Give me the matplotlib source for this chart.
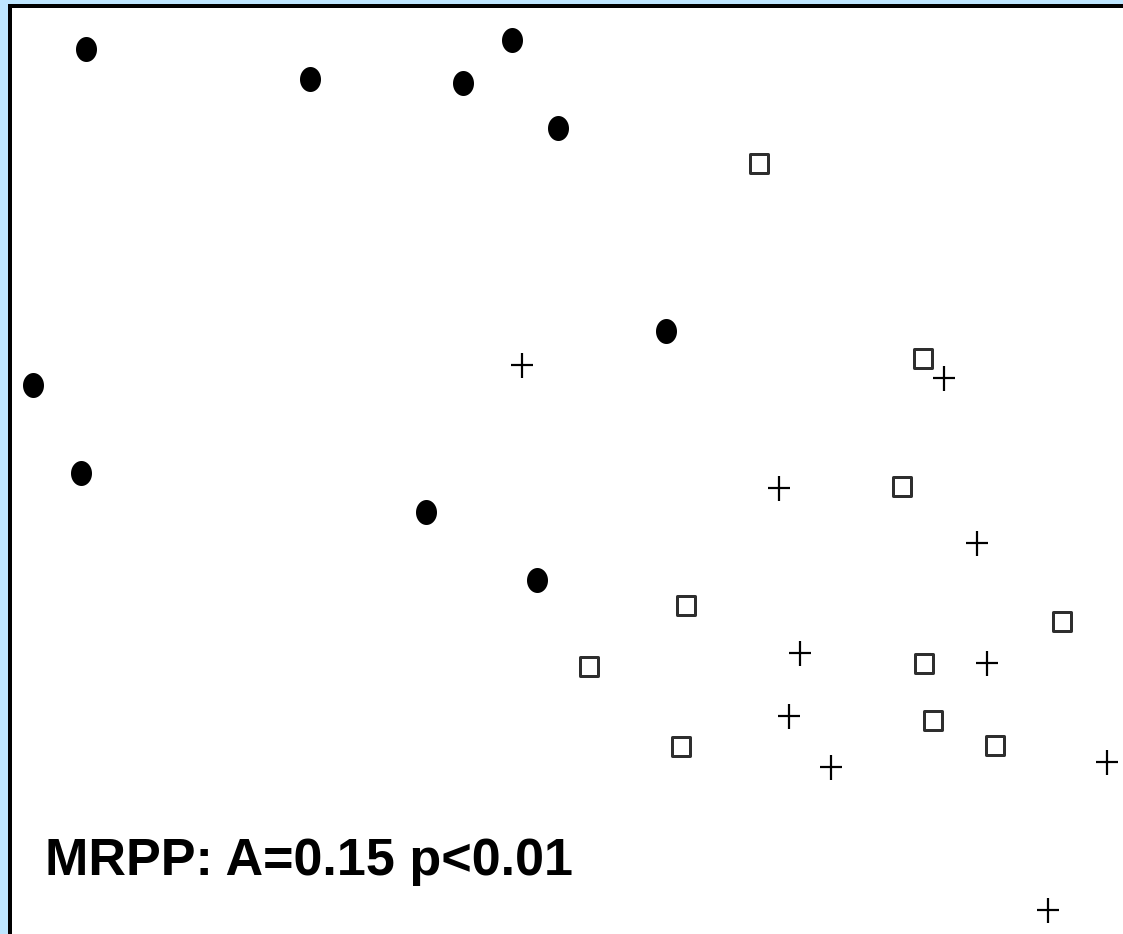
import numpy as np
import matplotlib
matplotlib.use("Agg")
import matplotlib.pyplot as plt
from matplotlib.path import Path

# Ordination scores (arbitrary NMDS-like units)
group_a_x = [0.76, 3.00, 4.53, 5.02, 5.48, 6.56, 0.23, 0.71, 4.16, 5.27]
group_a_y = [8.85, 8.55, 8.51, 8.94, 8.06, 6.03, 5.49, 4.61, 4.22, 3.54]

group_b_x = [7.49, 9.13, 8.92, 6.76, 10.52, 5.79, 9.14, 9.23, 6.71, 9.85]
group_b_y = [7.71, 5.76, 4.48, 3.29, 3.13, 2.68, 2.71, 2.14, 1.88, 1.89]

group_c_x = [5.12, 9.34, 7.69, 9.67, 7.90, 9.77, 7.79, 8.21, 10.97, 10.38]
group_c_y = [5.69, 5.56, 4.46, 3.91, 2.81, 2.71, 2.18, 1.67, 1.72, 0.24]

annotation = "MRPP: A=0.15 p<0.01"

W, H, DPI = 1123, 934, 100
fig = plt.figure(figsize=(W / DPI, H / DPI), dpi=DPI, facecolor="#BEE6FF")
ax = fig.add_axes([10 / W, 0, 1 - 10 / W, 1 - 6 / H])
ax.set_facecolor("white")
ax.set_xlim(0, (W - 10) / 100)
ax.set_ylim(0, (H - 6) / 100)
ax.set_xticks([])
ax.set_yticks([])
for side in ["right", "bottom"]:
    ax.spines[side].set_visible(False)
for side in ["left", "top"]:
    ax.spines[side].set_linewidth(4 * 72 / DPI)
    ax.spines[side].set_color("black")

# elliptical (slightly tall) filled marker
t = np.linspace(0, 2 * np.pi, 60)
ellipse = Path(np.column_stack([0.42 * np.cos(t), 0.5 * np.sin(t)]), closed=True)
# plus marker
plus = Path([(-0.45, 0), (0.45, 0), (0, -0.5), (0, 0.5)],
            [Path.MOVETO, Path.LINETO, Path.MOVETO, Path.LINETO])
# open square, slightly tall
square = Path([(-0.45, -0.5), (0.45, -0.5), (0.45, 0.5), (-0.45, 0.5), (-0.45, -0.5)],
              [Path.MOVETO, Path.LINETO, Path.LINETO, Path.LINETO, Path.CLOSEPOLY])

px = 72 / DPI
ax.plot(group_a_x, group_a_y, linestyle="none", marker=ellipse,
        markersize=25 * px, color="black", markeredgewidth=0)
ax.plot(group_b_x, group_b_y, linestyle="none", marker=square,
        markersize=19 * px, markerfacecolor="none", markeredgecolor="#2e2e2e",
        markeredgewidth=3.0 * px)
ax.plot(group_c_x, group_c_y, linestyle="none", marker=plus,
        markersize=25 * px, markerfacecolor="none", markeredgecolor="black",
        markeredgewidth=2.2 * px)

ax.text(35 / (W - 10), (934 - 875) / (H - 6), annotation, transform=ax.transAxes,
        fontsize=37.5, fontweight="bold", family="Liberation Sans",
        ha="left", va="baseline", color="black")

fig.savefig("out.png", dpi=DPI, facecolor=fig.get_facecolor())
